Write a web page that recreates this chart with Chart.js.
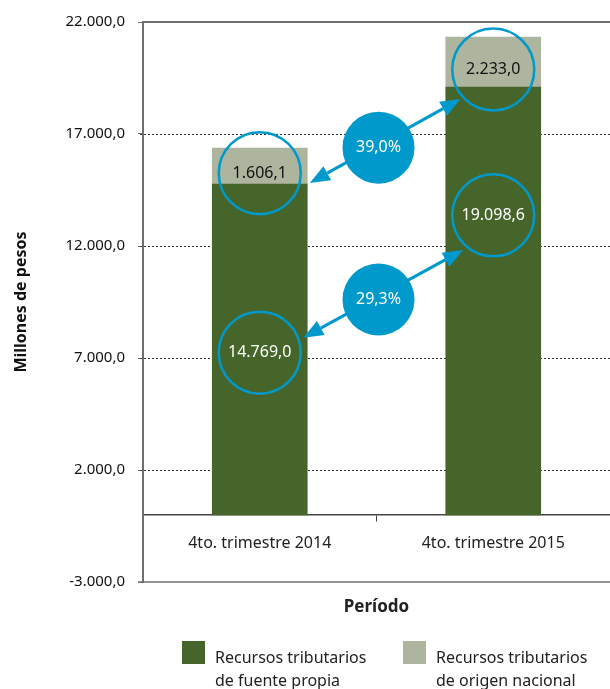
<!DOCTYPE html>
<html>
<head>
<meta charset="utf-8">
<script src="https://cdn.jsdelivr.net/npm/chart.js@4.4.1/dist/chart.umd.min.js"></script>
<style>
html, body { margin: 0; padding: 0; background: #fff; }
#wrap { width: 610px; height: 689px; }
</style>
</head>
<body>
<div id="wrap"><canvas id="myChart"></canvas></div>
<script>
var categories = ['4to. trimestre 2014', '4to. trimestre 2015'];
var propia = [14769.0, 19098.6];
var nacional = [1606.1, 2233.0];
var seriesNames = [['Recursos tributarios', 'de fuente propia'], ['Recursos tributarios', 'de origen nacional']];
var yTicks = [-3000, 2000, 7000, 12000, 17000, 22000];

var verde = '#46652a';
var gris = '#adb59f';
var azul = '#0099cc';
var fuente = 'Noto Sans';

// numero con punto de miles y coma decimal
var fmt = function (v) {
    var s = Math.abs(v).toFixed(1).split('.');
    var ent = s[0].replace(/\B(?=(\d{3})+(?!\d))/g, '.');
    return (v < 0 ? '-' : '') + ent + ',' + s[1];
};

var pct = function (a, b) {
    return ((b - a) / a * 100).toFixed(1).replace('.', ',') + '%';
};

// donde va cada circulo dentro de su tramo (fraccion del tramo)
var notas = [
    { serie: 1, fraccion: [0.3, 0.35], texto: '#111' },
    { serie: 0, fraccion: [0.49, 0.70], texto: '#fff' },
];
// flechas: angulo (grados) y distancia al centro del circulo de cada extremo
var flechas = [
    { serie: 1, desde: [11, 51], hasta: [138, 44] },
    { serie: 0, desde: [-19, 46], hasta: [131, 46] },
];

var linea = function (ctx, x1, y1, x2, y2) {
    ctx.beginPath();
    ctx.moveTo(x1, y1);
    ctx.lineTo(x2, y2);
    ctx.stroke();
};

var punta = function (ctx, tx, ty, fx, fy) {
    var ang = Math.atan2(ty - fy, tx - fx);
    var L = 20, W = 8;
    var bx = tx - L * Math.cos(ang), by = ty - L * Math.sin(ang);
    ctx.beginPath();
    ctx.moveTo(tx, ty);
    ctx.lineTo(bx - W * Math.sin(ang), by + W * Math.cos(ang));
    ctx.lineTo(bx + W * Math.sin(ang), by - W * Math.cos(ang));
    ctx.closePath();
    ctx.fill();
    return [bx, by];
};

var marcoPlugin = {
    id: 'marco',
    beforeDatasetsDraw: function (chart) {
        var ctx = chart.ctx, a = chart.chartArea, ya = chart.scales.y;
        ctx.save();
        ctx.strokeStyle = '#333';
        ctx.lineWidth = 1;
        ctx.setLineDash([2, 2]);
        ya.ticks.forEach(function (t) {
            if (t.value > ya.min && t.value < ya.max) {
                var py = Math.round(ya.getPixelForValue(t.value)) + 0.5;
                linea(ctx, a.left - 3, py, a.right, py);
            }
        });
        ctx.setLineDash([]);
        ctx.strokeStyle = '#6f6f6f';
        ctx.lineWidth = 2;
        var top = Math.round(ya.getPixelForValue(ya.max));
        var bot = Math.round(ya.getPixelForValue(ya.min));
        linea(ctx, a.left, top, a.right, top);
        ctx.lineWidth = 1.5;
        linea(ctx, a.left - 5, bot, a.right, bot);
        ctx.restore();
    }
};

var notasPlugin = {
    id: 'notas',
    afterDatasetsDraw: function (chart) {
        var ctx = chart.ctx, a = chart.chartArea, ya = chart.scales.y;
        var centros = {};
        ctx.save();

        // circulos con los valores
        notas.forEach(function (n) {
            var meta = chart.getDatasetMeta(n.serie);
            var valores = chart.data.datasets[n.serie].data;
            centros[n.serie] = [];
            meta.data.forEach(function (bar, i) {
                var base = n.serie === 1 ? propia[i] : 0;
                var cx = bar.x;
                var cy = ya.getPixelForValue(base + valores[i] * n.fraccion[i]);
                centros[n.serie].push([cx, cy]);
                ctx.strokeStyle = azul;
                ctx.lineWidth = 2.5;
                ctx.beginPath();
                ctx.arc(cx, cy, 41, 0, Math.PI * 2);
                ctx.stroke();
                ctx.fillStyle = n.texto;
                ctx.font = '16px "' + fuente + '"';
                ctx.textAlign = 'center';
                ctx.textBaseline = 'middle';
                ctx.fillText(fmt(valores[i]), cx, cy);
            });
        });

        // flechas y circulos de variacion
        flechas.forEach(function (f) {
            var c = centros[f.serie];
            var d1 = f.desde[0] * Math.PI / 180, d2 = f.hasta[0] * Math.PI / 180;
            var p1 = [c[0][0] + f.desde[1] * Math.cos(d1), c[0][1] + f.desde[1] * Math.sin(d1)];
            var p2 = [c[1][0] + f.hasta[1] * Math.cos(d2), c[1][1] + f.hasta[1] * Math.sin(d2)];
            ctx.fillStyle = azul;
            ctx.strokeStyle = azul;
            ctx.lineWidth = 3;
            var b1 = punta(ctx, p1[0], p1[1], p2[0], p2[1]);
            var b2 = punta(ctx, p2[0], p2[1], p1[0], p1[1]);
            linea(ctx, b1[0], b1[1], b2[0], b2[1]);

            var valores = chart.data.datasets[f.serie].data;
            var mx = (c[0][0] + c[1][0]) / 2 + 2;
            var my = p1[1] + (p2[1] - p1[1]) * (mx - p1[0]) / (p2[0] - p1[0]) + 3;
            ctx.beginPath();
            ctx.arc(mx, my, 36, 0, Math.PI * 2);
            ctx.fill();
            ctx.fillStyle = '#fff';
            ctx.font = '16px "' + fuente + '"';
            ctx.textAlign = 'center';
            ctx.textBaseline = 'middle';
            ctx.fillText(pct(valores[0], valores[1]), mx, my);
        });

        // titulo del eje x
        ctx.fillStyle = '#222';
        ctx.font = 'bold 17px "' + fuente + '"';
        ctx.textAlign = 'center';
        ctx.textBaseline = 'middle';
        ctx.fillText('Período', (a.left + a.right) / 2, a.bottom + 25);

        // leyenda
        var xs = [182, 403];
        chart.data.datasets.forEach(function (ds, i) {
            ctx.fillStyle = ds.backgroundColor;
            ctx.fillRect(xs[i], a.bottom + 59, 23, 23);
            ctx.fillStyle = '#222';
            ctx.font = '16px "' + fuente + '"';
            ctx.textAlign = 'left';
            seriesNames[i].forEach(function (t, k) {
                ctx.fillText(t, xs[i] + 33, a.bottom + 76 + k * 23);
            });
        });
        ctx.restore();
    }
};

var ctx = document.getElementById('myChart').getContext('2d');

var chart = new Chart(ctx, {
    type: 'bar',
    data: {
        labels: categories,
        datasets: [{
            label: seriesNames[0].join(' '),
            data: propia,
            backgroundColor: verde,
            barThickness: 95,
        }, {
            label: seriesNames[1].join(' '),
            data: nacional,
            backgroundColor: gris,
            barThickness: 95,
        }],
    },
    options: {
        responsive: true,
        maintainAspectRatio: false,
        animation: false,
        layout: { padding: { top: 21, bottom: 107, left: 0, right: 0 } },
        plugins: {
            legend: { display: false },
            tooltip: { enabled: false },
        },
        scales: {
            x: {
                stacked: true,
                position: { y: 0 },
                grid: { offset: true, drawOnChartArea: false, tickLength: 6, color: '#444', tickColor: '#444' },
                border: { color: '#444', width: 1.5 },
                ticks: { font: { family: fuente, size: 16 }, color: '#222', padding: 13 },
            },
            y: {
                stacked: true,
                min: yTicks[0],
                max: yTicks[yTicks.length - 1],
                ticks: {
                    stepSize: yTicks[1] - yTicks[0],
                    callback: fmt,
                    font: { family: fuente, size: 15 },
                    color: '#111',
                    padding: 13,
                },
                grid: { drawOnChartArea: false, tickLength: 5, color: '#6f6f6f', tickColor: '#6f6f6f' },
                border: { color: '#6f6f6f', width: 2 },
                title: {
                    display: true,
                    text: 'Millones de pesos',
                    color: '#111',
                    font: { family: fuente, size: 16, weight: 'bold' },
                    padding: { top: 12, bottom: 0 },
                },
                afterFit: function (scale) { scale.width = 143; },
            },
        },
    },
    plugins: [marcoPlugin, notasPlugin],
});
</script>
</body>
</html>
